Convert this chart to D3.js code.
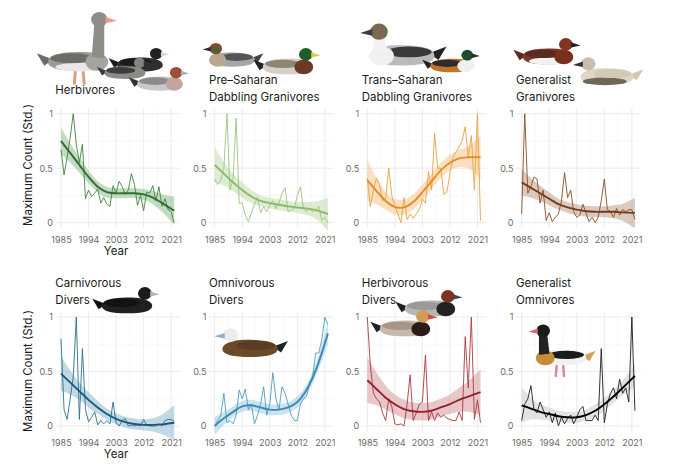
<!DOCTYPE html>
<html>
<head>
<meta charset="utf-8">
<script src="https://cdn.jsdelivr.net/npm/d3@7"></script>
<style>
  body { margin: 0; background: #fff; }
  svg { font-family: Inter, "Noto Sans", sans-serif; }
</style>
</head>
<body>
<div id="chart"></div>
<script>
// years of the raw counts and knots of the fitted trend
const years = [1985,1986,1987,1988,1989,1990,1991,1992,1993,1994,1995,1996,1997,1998,1999,2000,2001,2002,2003,2004,
  2005,2006,2007,2008,2009,2010,2011,2012,2013,2014,2015,2016,2017,2018,2019,2020,2021,2022];
const fitYears = [1985,1988,1991,1994,1997,2000,2003,2006,2009,2012,2015,2018,2022];
const xTicks = [1985, 1994, 2003, 2012, 2021];
const yTicks = [0, 0.5, 1];

const titles = [
  ["Herbivores"],
  ["Pre\u2013Saharan", "Dabbling Granivores"],
  ["Trans\u2013Saharan", "Dabbling Granivores"],
  ["Generalist", "Granivores"],
  ["Carnivorous", "Divers"],
  ["Omnivorous", "Divers"],
  ["Herbivorous", "Divers"],
  ["Generalist", "Omnivores"]
];

// raw standardised maximum counts
const herbivores = [0.67,0.44,0.6,0.78,1.0,0.72,0.55,0.72,0.22,0.3,0.24,0.27,0.31,0.18,0.23,0.17,0.15,0.34,0.27,0.38,
  0.33,0.26,0.3,0.45,0.35,0.16,0.25,0.11,0.28,0.27,0.34,0.2,0.33,0.15,0.22,0.12,0.1,0.0];
const preSaharan = [0.4,0.35,0.39,0.5,1.0,0.3,0.4,0.96,0.18,0.18,0.07,0.01,0.09,0.17,0.23,0.09,0.15,0.1,0.16,0.2,
  0.13,0.18,0.27,0.32,0.1,0.12,0.13,0.25,0.33,0.13,0.1,0.13,0.1,0.12,0.15,0.02,0.05,0.0];
const transSaharan = [0.41,0.15,0.3,0.41,0.35,0.2,0.22,0.5,0.25,0.15,0.08,0.0,0.23,0.03,0.08,0.04,0.08,0.12,0.22,0.18,
  0.47,0.3,0.82,0.5,0.5,0.26,0.28,0.45,0.6,0.65,0.7,0.75,0.88,0.6,0.8,0.3,1.0,0.02];
const generalistGranivores = [0.08,1.0,0.27,0.33,0.42,0.4,0.18,0.3,0.02,0.09,0.01,0.05,0.08,0.2,0.46,0.23,0.3,0.1,0.05,0.07,
  0.17,0.09,0.01,0.05,0.0,0.05,0.2,0.4,0.12,0.1,0.05,0.13,0.07,0.12,0.1,0.12,0.12,0.03];
const carnivorousDivers = [0.8,0.15,0.06,0.25,0.45,1.0,0.06,0.71,0.15,0.04,0.08,0.13,0.01,0.05,0.02,0.05,0.02,0.22,0.03,0.0,
  0.05,0.07,0.0,0.01,0.0,0.01,0.0,0.06,0.01,0.0,0.0,0.0,0.02,0.0,0.05,0.06,0.06,0.04];
const omnivorousDivers = [0.0,0.05,0.1,0.3,0.03,0.05,0.02,0.1,0.33,0.25,0.34,0.15,0.2,0.02,0.1,0.2,0.36,0.1,0.2,0.49,
  0.25,0.15,0.36,0.3,0.2,0.1,0.05,0.05,0.2,0.25,0.27,0.4,0.45,0.67,0.67,0.79,1.0,0.93];
const herbivorousDivers = [1.0,0.55,0.3,0.25,0.22,0.12,0.05,0.25,0.18,0.02,0.01,0.02,0.0,0.2,0.47,0.05,0.12,0.2,0.22,0.65,
  0.05,0.13,0.05,0.12,0.08,0.1,0.07,0.06,0.05,0.05,0.13,0.05,0.82,0.35,1.0,0.06,0.24,0.03];
const generalistOmnivores = [0.05,0.2,0.25,0.37,0.15,0.12,0.22,0.15,0.08,0.13,0.03,0.12,0.0,0.08,0.02,0.07,0.1,0.02,0.08,0.15,
  0.18,0.05,0.05,0.05,0.1,0.05,0.71,0.03,0.2,0.3,0.35,0.25,0.43,0.3,0.35,0.22,1.0,0.14];

// fitted trend at fitYears
const herbivoresFit = [0.75,0.64,0.53,0.42,0.33,0.28,0.27,0.27,0.27,0.26,0.23,0.18,0.11];
const preSaharanFit = [0.53,0.45,0.37,0.3,0.24,0.2,0.18,0.165,0.15,0.14,0.13,0.115,0.08];
const transSaharanFit = [0.39,0.29,0.2,0.145,0.14,0.19,0.28,0.38,0.48,0.55,0.59,0.6,0.6];
const generalistGranivoresFit = [0.37,0.32,0.27,0.22,0.17,0.14,0.12,0.105,0.1,0.1,0.1,0.095,0.09];
const carnivorousDiversFit = [0.48,0.4,0.32,0.24,0.17,0.11,0.065,0.035,0.018,0.01,0.01,0.015,0.03];
const omnivorousDiversFit = [0.0,0.07,0.13,0.18,0.19,0.17,0.15,0.15,0.17,0.22,0.33,0.51,0.85];
const herbivorousDiversFit = [0.42,0.34,0.26,0.2,0.155,0.135,0.13,0.14,0.17,0.2,0.24,0.27,0.31];
const generalistOmnivoresFit = [0.19,0.16,0.13,0.11,0.09,0.08,0.08,0.1,0.14,0.2,0.27,0.35,0.46];

// half width of the confidence band at fitYears
const herbivoresCI = [0.12,0.09,0.07,0.06,0.05,0.05,0.045,0.045,0.045,0.05,0.06,0.08,0.13];
const preSaharanCI = [0.16,0.11,0.08,0.07,0.06,0.05,0.05,0.05,0.05,0.05,0.06,0.08,0.15];
const transSaharanCI = [0.19,0.12,0.08,0.07,0.07,0.07,0.07,0.07,0.07,0.07,0.08,0.1,0.2];
const generalistGranivoresCI = [0.12,0.09,0.07,0.06,0.05,0.05,0.05,0.05,0.05,0.05,0.06,0.08,0.14];
const carnivorousDiversCI = [0.16,0.11,0.08,0.07,0.06,0.05,0.05,0.05,0.05,0.05,0.06,0.09,0.16];
const omnivorousDiversCI = [0.08,0.06,0.05,0.05,0.05,0.05,0.05,0.05,0.05,0.05,0.05,0.06,0.1];
const herbivorousDiversCI = [0.21,0.15,0.11,0.09,0.085,0.08,0.08,0.08,0.08,0.09,0.11,0.14,0.21];
const generalistOmnivoresCI = [0.16,0.1,0.07,0.06,0.05,0.05,0.05,0.05,0.06,0.06,0.06,0.07,0.1];

const raws = [herbivores, preSaharan, transSaharan, generalistGranivores, carnivorousDivers, omnivorousDivers, herbivorousDivers, generalistOmnivores];
const fits = [herbivoresFit, preSaharanFit, transSaharanFit, generalistGranivoresFit, carnivorousDiversFit, omnivorousDiversFit, herbivorousDiversFit, generalistOmnivoresFit];
const cis = [herbivoresCI, preSaharanCI, transSaharanCI, generalistGranivoresCI, carnivorousDiversCI, omnivorousDiversCI, herbivorousDiversCI, generalistOmnivoresCI];

const lineCol = ["#3f8440", "#9cc47e", "#eba040", "#8a4d22", "#2a7192", "#4c9cc2", "#a93a40", "#1e1e1e"];
const fitCol  = ["#2f6d31", "#8ab96a", "#e08f25", "#76391a", "#19597a", "#3a8ab3", "#951f2a", "#000000"];
const bandCol = ["#86b886", "#bcdaa6", "#f5bf82", "#b89580", "#86b4cc", "#9ac8df", "#d28f94", "#c8c8c8"];

const width = 680, height = 468;
const colX = [61, 214.7, 367.3, 521.7];   // x of 1985 in each column
const rowY = [222.7, 426];               // y of value 0 in each row
const pxYear = 3.06, pxUnit = 109;

const svg = d3.select("#chart").append("svg")
  .attr("width", width).attr("height", height);

// little stylised ducks standing in for the illustrations
function duck(x, y, s, flip, c) {
  const g = svg.append("g")
    .attr("transform", `translate(${x},${y}) scale(${flip ? -s : s},${s})`);
  const neck = c.neck || 0;
  if (c.legs) {
    g.append("path").attr("d", "M-2,6 L-3,18 M4,6 L5,18").attr("stroke", c.legs).attr("stroke-width", 2.4);
  }
  g.append("path").attr("d", "M-20,-2 L-33,-7 L-27,3 Z").attr("fill", c.tail || c.wing);
  g.append("path").attr("d", "M-24,0 C-24,-7 -10,-8 4,-8 C17,-8 24,-4 24,0 C24,5 14,7 0,7 C-14,7 -24,5 -24,0 Z")
    .attr("fill", c.body);
  if (c.belly) g.append("ellipse").attr("cx", 2).attr("cy", 4).attr("rx", 20).attr("ry", 3.5).attr("fill", c.belly);
  g.append("ellipse").attr("cx", -5).attr("cy", -3).attr("rx", 17).attr("ry", 4).attr("fill", c.wing);
  if (c.breast) g.append("ellipse").attr("cx", 15).attr("cy", 0).attr("rx", 9).attr("ry", 7).attr("fill", c.breast);
  if (neck > 0) {
    g.append("path").attr("d", `M11,-4 L13,${-8 - neck} L21,${-8 - neck} L21,-3 Z`).attr("fill", c.neckCol || c.head);
  }
  g.append("ellipse").attr("cx", 17).attr("cy", -12 - neck).attr("rx", 6.5).attr("ry", 6).attr("fill", c.head);
  if (c.cheek) g.append("circle").attr("cx", 17).attr("cy", -11 - neck).attr("r", 3).attr("fill", c.cheek);
  g.append("path").attr("d", `M22,${-14 - neck} L31,${-11 - neck} L22,${-9 - neck} Z`).attr("fill", c.bill);
}

duck(78, 62, 1.25, false, {body: "#9b9a94", wing: "#6e6c68", breast: "#a6a49f", head: "#8f8d88", bill: "#e89a7a", neck: 22, legs: "#e39a7a", belly: "#e8e8ea"});
duck(140, 65, 0.95, false, {body: "#2f2f2f", wing: "#1b1b1b", head: "#222", bill: "#d8d8d8"});
duck(125, 73, 0.85, false, {body: "#8c8a86", wing: "#3c3c3c", head: "#85837e", bill: "#333"});
duck(160, 84, 0.95, false, {body: "#c9c9cc", wing: "#8b8b8e", breast: "#c7a3a0", head: "#9f5033", bill: "#9fb3c4", tail: "#333"});
duck(232, 60, 0.95, true, {body: "#a4a6a8", wing: "#555", breast: "#b7a98f", head: "#8a4a2b", cheek: "#2e6e3a", bill: "#333", tail: "#444"});
duck(288, 67, 1.05, false, {body: "#d5cfc6", wing: "#8e8675", breast: "#6b3a25", head: "#1f5e2b", bill: "#e4c83b", tail: "#222"});
duck(402, 56, 1.35, true, {body: "#b9babc", wing: "#39393a", breast: "#f0f0f0", head: "#7a6a52", bill: "#3a3d45", neck: 6, neckCol: "#f2f2f2", tail: "#222"});
duck(452, 66, 0.9, false, {body: "#c0732a", wing: "#2c2c2c", breast: "#f0f0f0", head: "#1d4d2c", bill: "#2a2a2a", tail: "#222"});
duck(548, 57, 1.05, false, {body: "#7a3a2a", wing: "#5a2a20", breast: "#7c2e1c", head: "#82351f", bill: "#222", belly: "#f2f2f2"});
duck(607, 77, 1.1, true, {body: "#ddd6c5", wing: "#d2c9b5", head: "#c8bfa9", bill: "#333", belly: "#6f6658"});
duck(127, 306, 1.05, false, {body: "#231f20", wing: "#111", head: "#1b1b1b", bill: "#a8b4c8"});
duck(250, 349, 1.15, true, {body: "#6b4a2c", wing: "#5a3d22", head: "#ececec", cheek: "#ececec", bill: "#8fb0c9", tail: "#222"});
duck(430, 309, 1.05, false, {body: "#b6b6b6", wing: "#9a9a9a", breast: "#222", head: "#7d3322", bill: "#444", tail: "#222"});
duck(405, 329, 1.05, false, {body: "#c6b8ad", wing: "#a79688", breast: "#2a1d18", head: "#d39a5c", bill: "#d44a3a", tail: "#222"});
duck(561, 358, 1.05, true, {body: "#f1f1f1", wing: "#1b1b1b", breast: "#c88b3a", head: "#1a1a1a", neck: 14, neckCol: "#222", bill: "#d26a72", legs: "#d78a9a", tail: "#d7a05a"});

titles.forEach((t, i) => {
  const col = i % 4, row = Math.floor(i / 4);
  const x = d3.scaleLinear().domain([1985, 2021]).range([colX[col], colX[col] + 36 * pxYear]);
  const y = d3.scaleLinear().domain([0, 1]).range([rowY[row], rowY[row] - pxUnit]);
  const left = x(1983.15), right = x(2023.85), top = y(1.05), bottom = y(-0.05);

  const g = svg.insert("g", ":first-child");

  // minor and major grid
  const minorX = [1989.5, 1998.5, 2007.5, 2016.5];
  g.selectAll(".vmin").data(minorX).join("line")
    .attr("x1", d => x(d)).attr("x2", d => x(d)).attr("y1", top).attr("y2", bottom)
    .attr("stroke", "#f3f3f3").attr("stroke-width", 0.6);
  g.selectAll(".hmin").data([0.25, 0.75]).join("line")
    .attr("x1", left).attr("x2", right).attr("y1", d => y(d)).attr("y2", d => y(d))
    .attr("stroke", "#f3f3f3").attr("stroke-width", 0.6);
  g.selectAll(".vmaj").data(xTicks).join("line")
    .attr("x1", d => x(d)).attr("x2", d => x(d)).attr("y1", top).attr("y2", bottom)
    .attr("stroke", "#e9e9e9").attr("stroke-width", 0.9);
  g.selectAll(".hmaj").data(yTicks).join("line")
    .attr("x1", left).attr("x2", right).attr("y1", d => y(d)).attr("y2", d => y(d))
    .attr("stroke", "#e9e9e9").attr("stroke-width", 0.9);

  const marks = svg.append("g");
  const fitData = fitYears.map((yr, k) => ({yr, v: fits[i][k], h: cis[i][k]}));
  marks.append("path").datum(fitData)
    .attr("fill", bandCol[i]).attr("opacity", 0.5)
    .attr("d", d3.area().x(d => x(d.yr)).y0(d => y(d.v - d.h)).y1(d => y(d.v + d.h)).curve(d3.curveCatmullRom));

  marks.append("path").datum(years.map((yr, k) => [yr, raws[i][k]]))
    .attr("fill", "none").attr("stroke", lineCol[i]).attr("stroke-width", 0.9)
    .attr("stroke-linejoin", "round")
    .attr("d", d3.line().x(d => x(d[0])).y(d => y(d[1])));

  marks.append("path").datum(fitData)
    .attr("fill", "none").attr("stroke", fitCol[i]).attr("stroke-width", 1.9)
    .attr("d", d3.line().x(d => x(d.yr)).y(d => y(d.v)).curve(d3.curveCatmullRom));

  // axes
  const ax = svg.append("g").attr("transform", `translate(0,${bottom})`)
    .call(d3.axisBottom(x).tickValues(xTicks).tickFormat(d3.format("d")).tickSize(0).tickPadding(8));
  const ay = svg.append("g").attr("transform", `translate(${left},0)`)
    .call(d3.axisLeft(y).tickValues(yTicks).tickFormat(d => d === 0.5 ? "0.5" : d3.format("d")(d)).tickSize(0).tickPadding(2.5));
  [ax, ay].forEach(a => {
    a.select(".domain").remove();
    a.selectAll("text").attr("font-family", "Inter, sans-serif").attr("font-size", 9).attr("fill", "#6b6b6b");
  });

  // facet titles
  const base = row === 0 ? (t.length === 1 ? 94 : 84) : 287;
  t.forEach((line, k) => {
    svg.append("text").attr("x", left).attr("y", base + k * 16.5)
      .attr("font-size", 11.5).attr("fill", "#1a1a1a").text(line);
  });

  if (col === 0) {
    svg.append("text").attr("x", x(2003)).attr("y", bottom + 27)
      .attr("text-anchor", "middle").attr("font-size", 11.5).attr("fill", "#1a1a1a").text("Year");
    svg.append("text")
      .attr("transform", `translate(32,${row === 0 ? 165 : 371}) rotate(-90)`)
      .attr("text-anchor", "middle").attr("font-size", 11.5).attr("fill", "#1a1a1a")
      .text("Maximum Count (Std.)");
  }
});
</script>
</body>
</html>
